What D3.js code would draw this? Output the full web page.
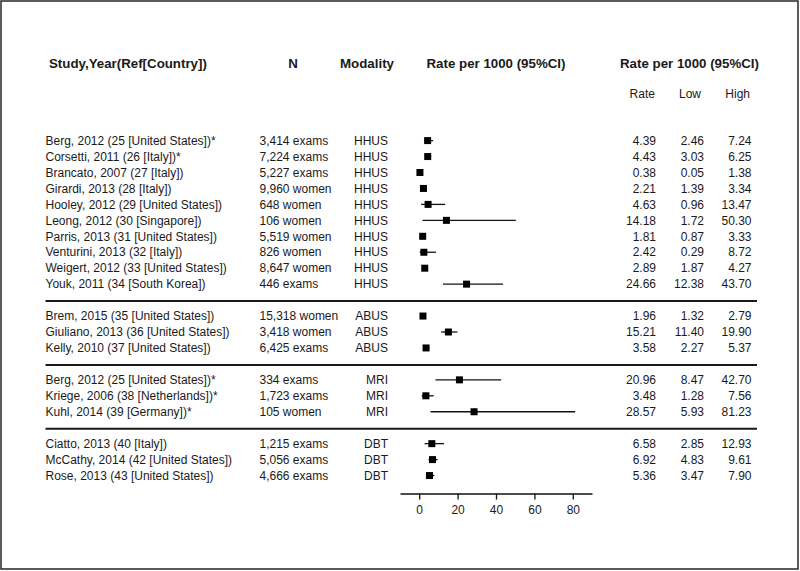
<!DOCTYPE html>
<html>
<head>
<meta charset="utf-8">
<script src="https://cdn.jsdelivr.net/npm/d3@7"></script>
<style>
  html, body { margin: 0; padding: 0; background: #fff; }
  svg { display: block; font-family: Arial, "Liberation Sans", sans-serif; }
</style>
</head>
<body>
<div id="chart"></div>
<script>
// ---- data ----
const groups = ["HHUS", "ABUS", "MRI", "DBT"];
const studies = [
  "Berg, 2012 (25 [United States])*",
  "Corsetti, 2011 (26 [Italy])*",
  "Brancato, 2007 (27 [Italy])",
  "Girardi, 2013 (28 [Italy])",
  "Hooley, 2012 (29 [United States])",
  "Leong, 2012 (30 [Singapore])",
  "Parris, 2013 (31 [United States])",
  "Venturini, 2013 (32 [Italy])",
  "Weigert, 2012 (33 [United States])",
  "Youk, 2011 (34 [South Korea])",
  "Brem, 2015 (35 [United States])",
  "Giuliano, 2013 (36 [United States])",
  "Kelly, 2010 (37 [United States])",
  "Berg, 2012 (25 [United States])*",
  "Kriege, 2006 (38 [Netherlands])*",
  "Kuhl, 2014 (39 [Germany])*",
  "Ciatto, 2013 (40 [Italy])",
  "McCathy, 2014 (42 [United States])",
  "Rose, 2013 (43 [United States])"
];
const sizes = [
  "3,414 exams", "7,224 exams", "5,227 exams", "9,960 women", "648 women",
  "106 women", "5,519 women", "826 women", "8,647 women", "446 exams",
  "15,318 women", "3,418 women", "6,425 exams",
  "334 exams", "1,723 exams", "105 women",
  "1,215 exams", "5,056 exams", "4,666 exams"
];
const modality = [
  "HHUS", "HHUS", "HHUS", "HHUS", "HHUS", "HHUS", "HHUS", "HHUS", "HHUS", "HHUS",
  "ABUS", "ABUS", "ABUS",
  "MRI", "MRI", "MRI",
  "DBT", "DBT", "DBT"
];
const rate = [4.39, 4.43, 0.38, 2.21, 4.63, 14.18, 1.81, 2.42, 2.89, 24.66,
              1.96, 15.21, 3.58, 20.96, 3.48, 28.57, 6.58, 6.92, 5.36];
const low  = [2.46, 3.03, 0.05, 1.39, 0.96, 1.72, 0.87, 0.29, 1.87, 12.38,
              1.32, 11.40, 2.27, 8.47, 1.28, 5.93, 2.85, 4.83, 3.47];
const high = [7.24, 6.25, 1.38, 3.34, 13.47, 50.30, 3.33, 8.72, 4.27, 43.70,
              2.79, 19.90, 5.37, 42.70, 7.56, 81.23, 12.93, 9.61, 7.90];
const axisTicks = [0, 20, 40, 60, 80];
const headers = ["Study,Year(Ref[Country])", "N", "Modality", "Rate per 1000 (95%CI)", "Rate per 1000 (95%CI)"];
const subHeaders = ["Rate", "Low", "High"];

// ---- layout ----
const W = 800, H = 571;
const svg = d3.select("#chart").append("svg").attr("width", W).attr("height", H);

const rows = studies.map((s, i) => ({
  study: s, n: sizes[i], mod: modality[i],
  rate: rate[i], low: low[i], high: high[i],
  slot: i + groups.indexOf(modality[i])
}));

const y = d3.scaleLinear().domain([0, 21]).range([140.6, 140.6 + 21 * 15.95]);
const x = d3.scaleLinear().domain([-10, 90]).range([400, 592]);

const textColor = "#1a1a1a";

// frame
svg.append("rect").attr("x", 1).attr("y", 1).attr("width", W - 3).attr("height", H - 3)
  .attr("fill", "none").attr("stroke", "#333").attr("stroke-width", 1.6);

// headers
const hdr = svg.append("g").attr("font-weight", "bold").attr("font-size", "13.3px").attr("fill", textColor);
const hdrPos = [[49, "start"], [293, "middle"], [367, "middle"], [496, "middle"], [689.5, "middle"]];
headers.forEach((h, i) => {
  hdr.append("text").attr("x", hdrPos[i][0]).attr("y", 63.5).attr("dy", "0.35em")
    .attr("text-anchor", hdrPos[i][1]).text(h);
});
const subX = [642.3, 690, 737.7];
subHeaders.forEach((h, i) => {
  svg.append("text").attr("x", subX[i]).attr("y", 93.5).attr("dy", "0.35em")
    .attr("text-anchor", "middle").attr("font-size", "12px").attr("fill", textColor).text(h);
});

// row texts
const rg = svg.append("g").attr("font-size", "12px").attr("fill", textColor);
const fmt = d3.format(".2f");
rows.forEach(r => {
  const yy = y(r.slot);
  rg.append("text").attr("x", 45.5).attr("y", yy).attr("dy", "0.35em").text(r.study);
  rg.append("text").attr("x", 259.5).attr("y", yy).attr("dy", "0.35em").text(r.n);
  rg.append("text").attr("x", 388).attr("y", yy).attr("dy", "0.35em").attr("text-anchor", "end").text(r.mod);
  rg.append("text").attr("x", 656).attr("y", yy).attr("dy", "0.35em").attr("text-anchor", "end").text(fmt(r.rate));
  rg.append("text").attr("x", 704).attr("y", yy).attr("dy", "0.35em").attr("text-anchor", "end").text(fmt(r.low));
  rg.append("text").attr("x", 751.5).attr("y", yy).attr("dy", "0.35em").attr("text-anchor", "end").text(fmt(r.high));
});

// separators between groups
const lastSlots = groups.slice(0, -1).map(g => d3.max(rows.filter(r => r.mod === g), r => r.slot));
svg.append("g").selectAll("line").data(lastSlots).join("line")
  .attr("x1", 45.5).attr("x2", 757)
  .attr("y1", d => y(d + 1) + 1).attr("y2", d => y(d + 1) + 1)
  .attr("stroke", "#1a1a1a").attr("stroke-width", 2);

// forest marks
const fg = svg.append("g");
fg.selectAll("line.ci").data(rows).join("line").attr("class", "ci")
  .attr("x1", d => x(d.low)).attr("x2", d => x(d.high))
  .attr("y1", d => y(d.slot)).attr("y2", d => y(d.slot))
  .attr("stroke", "#111").attr("stroke-width", 1.3);
const sq = 7;
fg.selectAll("rect.pt").data(rows).join("rect").attr("class", "pt")
  .attr("x", d => x(d.rate) - sq / 2).attr("y", d => y(d.slot) - sq / 2)
  .attr("width", sq).attr("height", sq).attr("fill", "#000");

// axis
const axisY = y(21) + 18;
const ax = svg.append("g").attr("transform", `translate(0,${axisY})`)
  .call(d3.axisBottom(x).tickValues(axisTicks).tickSize(6).tickSizeOuter(0).tickPadding(6));
ax.select(".domain").attr("stroke", "#111").attr("stroke-width", 1.6);
ax.selectAll(".tick line").attr("stroke", "#111").attr("stroke-width", 1.3);
ax.selectAll(".tick text").attr("font-size", "12px").attr("fill", textColor)
  .attr("font-family", "Arial, 'Liberation Sans', sans-serif");
</script>
</body>
</html>
